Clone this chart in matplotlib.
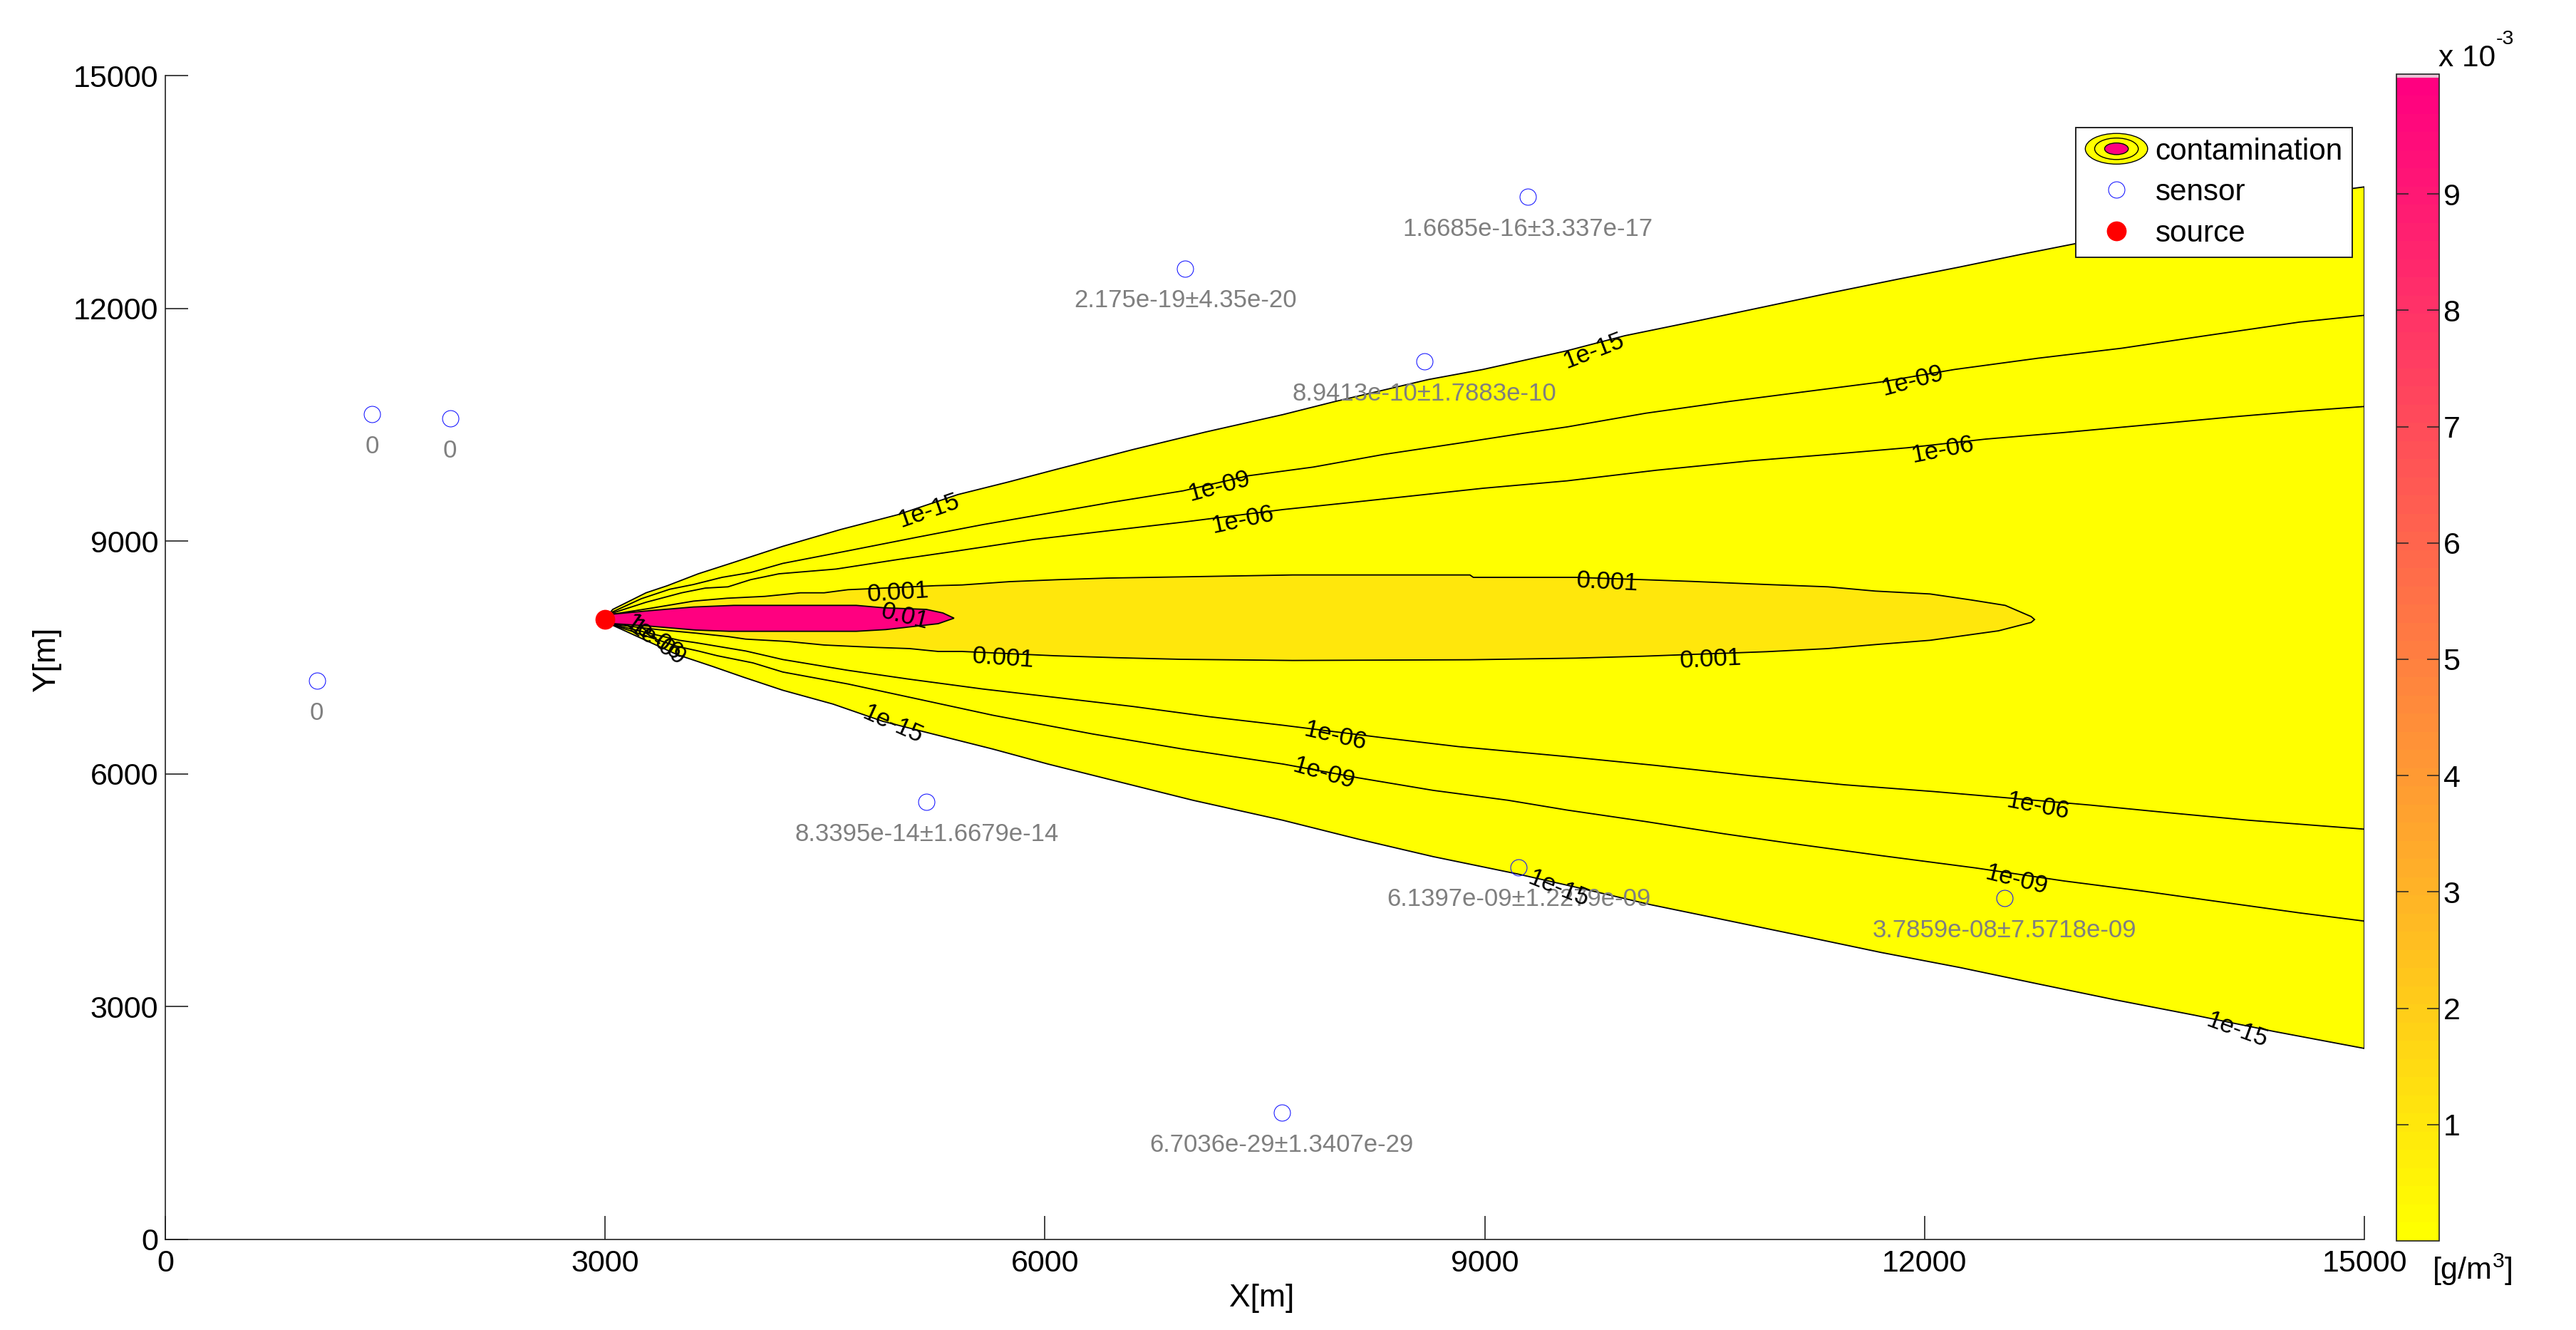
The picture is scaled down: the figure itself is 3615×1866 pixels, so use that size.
import matplotlib
matplotlib.use("Agg")
import matplotlib.pyplot as plt
from matplotlib.cm import ScalarMappable
from matplotlib.colors import LinearSegmentedColormap, Normalize
from matplotlib.legend_handler import HandlerBase
from matplotlib.lines import Line2D
from matplotlib.patches import Ellipse, Patch

plt.rcParams['font.family'] = ['Liberation Sans', 'DejaVu Sans']
plt.rcParams['mathtext.fontset'] = 'custom'
plt.rcParams['mathtext.rm'] = 'Liberation Sans'
plt.rcParams['mathtext.default'] = 'rm'

# contour outlines, source -> downstream
upper_15 = [(3000, 8000), (3052, 8120), (3279, 8334), (3425, 8426), (3635, 8579), (3862, 8717), (4212, 8933),
            (4605, 9149), (4997, 9341), (5406, 9600), (5748, 9761), (6072, 9922), (6600, 10180), (7095, 10406),
            (7624, 10631), (7965, 10793), (8614, 11082), (8987, 11212), (9562, 11454), (9955, 11647),
            (10454, 11840), (10900, 12017), (11346, 12195), (11811, 12373), (12238, 12532), (12654, 12694),
            (13024, 12832), (14000, 13190), (14911, 13543), (15000, 13565)]
lower_15 = [(3000, 8000), (3052, 7915), (3490, 7538), (3733, 7385), (3943, 7247), (4212, 7078), (4554, 6900),
            (4895, 6677), (5236, 6514), (5645, 6320), (6021, 6127), (6533, 5885), (7010, 5660), (7624, 5402),
            (8136, 5160), (8648, 4934), (9227, 4709), (9680, 4515), (10133, 4314), (10633, 4120), (11170, 3910),
            (11703, 3699), (12238, 3506), (12773, 3294), (13309, 3085), (13843, 2890), (14381, 2682),
            (15000, 2462)]

upper_09 = [(3000, 8000), (3052, 8089), (3247, 8258), (3441, 8380), (3603, 8441), (3797, 8533), (3992, 8595),
            (4212, 8713), (4656, 8875), (5133, 9052), (5577, 9213), (6021, 9358), (6464, 9503), (6942, 9648),
            (7386, 9842), (7829, 9954), (8307, 10116), (8819, 10261), (9262, 10390), (9562, 10472),
            (10097, 10648), (10668, 10800), (11170, 10922), (11703, 11051), (12204, 11212), (12773, 11357),
            (13345, 11486), (13916, 11647), (14558, 11823), (15000, 11910)]
lower_09 = [(3000, 8000), (3060, 7915), (3490, 7645), (3635, 7584), (3765, 7523), (4008, 7431), (4212, 7313),
            (4656, 7159), (5133, 6965), (5645, 6756), (6327, 6514), (6942, 6320), (7624, 6127), (8136, 5950),
            (8648, 5788), (9160, 5660), (9562, 5534), (10097, 5386), (10633, 5228), (11061, 5112),
            (11703, 4947), (12345, 4789), (12953, 4620), (13489, 4490), (14024, 4349), (14558, 4209),
            (15000, 4103)]

upper_06 = [(3000, 8000), (3052, 8074), (3279, 8212), (3522, 8334), (3684, 8395), (3838, 8411), (3992, 8503),
            (4186, 8579), (4575, 8640), (4997, 8763), (5406, 8875), (5918, 9020), (6430, 9133), (6942, 9245),
            (7624, 9407), (8067, 9494), (8511, 9584), (8987, 9681), (9562, 9777), (10168, 9913), (10811, 10035),
            (11346, 10116), (11882, 10203), (12418, 10315), (12953, 10400), (13489, 10493), (14094, 10600),
            (14558, 10674), (15000, 10735)]
lower_06 = [(3000, 8000), (3060, 7921), (3506, 7722), (3619, 7691), (3959, 7584), (4212, 7474), (4656, 7335),
            (5066, 7223), (5577, 7094), (6089, 6982), (6600, 6869), (7113, 6739), (7624, 6627), (8307, 6466),
            (8819, 6352), (9562, 6223), (10168, 6109), (10811, 5977), (11454, 5860), (12061, 5773),
            (12597, 5686), (13132, 5598), (13668, 5499), (14204, 5404), (15000, 5288)]

upper_03 = [(3000, 8000), (3052, 8059), (3311, 8135), (3603, 8227), (3830, 8264), (4089, 8288), (4332, 8334),
            (4494, 8334), (4656, 8374), (4802, 8386), (5255, 8426), (5434, 8435), (5760, 8478), (6085, 8503),
            (6434, 8524), (6922, 8539), (7690, 8564), (8899, 8564), (8922, 8533), (9620, 8533), (10085, 8503),
            (10411, 8481), (10922, 8441), (11341, 8411), (11666, 8356), (12038, 8319), (12317, 8242),
            (12550, 8172), (12727, 8028), (12750, 7990)]
lower_03 = [(3000, 8000), (3060, 7927), (3360, 7860), (3619, 7814), (3846, 7768), (3959, 7737), (4251, 7706),
            (4494, 7661), (4672, 7645), (4850, 7630), (5077, 7615), (5272, 7578), (5434, 7578), (6062, 7523),
            (6480, 7498), (6922, 7477), (7690, 7462), (8899, 7471), (9620, 7492), (10085, 7517), (10922, 7575),
            (11341, 7615), (11666, 7667), (12038, 7722), (12504, 7844), (12727, 7952), (12750, 7990)]

upper_02 = [(3000, 8000), (3052, 8059), (3311, 8105), (3603, 8151), (3878, 8172), (4713, 8172), (4899, 8141),
            (5191, 8120), (5304, 8074), (5380, 8007)]
lower_02 = [(3000, 8000), (3060, 7936), (3295, 7906), (3619, 7854), (3846, 7838), (4713, 7838), (4915, 7860),
            (5272, 7936), (5380, 8007)]

contours = [(1e-15, upper_15, lower_15), (1e-9, upper_09, lower_09), (1e-6, upper_06, lower_06),
            (1e-3, upper_03, lower_03), (1e-2, upper_02, lower_02)]

sensor_x = [1412, 1942, 1033, 6956, 9293, 8587, 5192, 9232, 12543, 7616]
sensor_y = [10637, 10581, 7198, 12513, 13435, 11315, 5637, 4799, 4400, 1632]
sensor_text = ['0', '0', '0', '2.175e-19±4.35e-20', '1.6685e-16±3.337e-17', '8.9413e-10±1.7883e-10',
               '8.3395e-14±1.6679e-14', '6.1397e-09±1.2279e-09', '3.7859e-08±7.5718e-09', '6.7036e-29±1.3407e-29']
source_x, source_y = 3000, 7990

# clabel text: string, x, y, rotation
contour_labels = [('1e-15', 5208, 9390, 19), ('1e-09', 7186, 9706, 15), ('1e-06', 7350, 9277, 12),
                  ('1e-15', 9744, 11454, 21), ('1e-09', 11919, 11068, 15), ('1e-06', 12123, 10180, 11),
                  ('0.001', 4997, 8333, 4), ('0.01', 5045, 8028, -14), ('0.001', 9838, 8472, -3),
                  ('0.001', 5713, 7492, -4), ('0.001', 10541, 7477, 3), ('1e-15', 4963, 6636, -24),
                  ('1e-06', 7980, 6488, -13), ('1e-09', 7902, 6004, -16), ('1e-15', 9503, 4522, -22),
                  ('1e-06', 12773, 5580, -11), ('1e-09', 12626, 4630, -14), ('1e-15', 14130, 2700, -20),
                  ('1e-06', 3330, 7752, -35), ('1e-09', 3354, 7688, -35)]

xticks = [0, 3000, 6000, 9000, 12000, 15000]
yticks = [0, 3000, 6000, 9000, 12000, 15000]
cbar_ticks = [0.001 * i for i in range(1, 10)]
cbar_labels = [str(i) for i in range(1, 10)]

W, H = 3615, 1866
FS = 31
LINE = '#000000'
BLUE = '#1010ff'

cmap = LinearSegmentedColormap.from_list('plume', ['#ffff00', '#ff0080'], N=64)
norm = Normalize(0, 0.01)


def px_rect(left, top, right, bottom):
    return [left / W, 1 - bottom / H, (right - left) / W, (bottom - top) / H]


class HandlerContamination(HandlerBase):
    # little nested blob in the legend
    def create_artists(self, legend, orig_handle, xdescent, ydescent, width, height, fontsize, trans):
        cx = width / 2 - xdescent
        cy = height / 2 - ydescent
        w, h = 63, 31
        out = []
        for f, col in [(1, '#ffff00'), (0.7, '#ffff00'), (0.38, '#ff0080')]:
            out.append(Ellipse((cx, cy), w * f, h * f, facecolor=col, edgecolor=LINE, lw=1.0, transform=trans))
        return out


fig = plt.figure(figsize=(W / 100, H / 100), dpi=100)
ax = fig.add_axes(px_rect(232, 106, 3318, 1739))
cax = fig.add_axes(px_rect(3363, 104, 3423, 1741))

for value, upper, lower in contours:
    outline = upper + lower[::-1]
    xs = [p[0] for p in outline]
    ys = [p[1] for p in outline]
    ax.fill(xs, ys, facecolor=cmap(norm(value)), edgecolor=LINE, linewidth=1.3, zorder=2)

for text, x, y, rot in contour_labels:
    ax.text(x, y, text, fontsize=25, rotation=rot, rotation_mode='anchor', ha='center', va='center',
            color='black', zorder=6)

ax.plot(sensor_x, sensor_y, 'o', mfc='none', mec=BLUE, ms=16.5, mew=0.75, zorder=4)
for x, y, text in zip(sensor_x, sensor_y, sensor_text):
    ax.annotate(text, (x, y), xytext=(0, -32.5), textcoords='offset points', ha='center', va='center',
                fontsize=25, color='#7f7f7f', zorder=5)
ax.plot([source_x], [source_y], 'o', color='#ff0000', ms=20, mew=0, zorder=7)

ax.set_xlim(0, 15000)
ax.set_ylim(0, 15000)
ax.set_xticks(xticks)
ax.set_yticks(yticks)
ax.spines['top'].set_visible(False)
ax.spines['right'].set_visible(False)
for side in ['left', 'bottom']:
    ax.spines[side].set_linewidth(1.2)
    ax.spines[side].set_color('#222222')
ax.tick_params(axis='x', direction='in', length=24, width=1.2, color='#222222', labelsize=FS, pad=10)
ax.tick_params(axis='y', direction='in', length=23, width=1.2, color='#222222', labelsize=FS, pad=7)
ax.set_xlabel('X[m]', fontsize=32, va='center')
ax.set_ylabel('Y[m]', fontsize=32, va='center')
ax.xaxis.set_label_coords(0.4987, -0.0508)
ax.yaxis.set_label_coords(-0.0541, 0.498)

handles = [Patch(label='contamination'),
           Line2D([], [], ls='none', marker='o', mfc='none', mec=BLUE, ms=16.5, mew=0.75, label='sensor'),
           Line2D([], [], ls='none', marker='o', color='#ff0000', ms=20, mew=0, label='source')]
leg = ax.legend(handles=handles, handler_map={Patch: HandlerContamination()}, loc='upper left',
                bbox_to_anchor=(0.8688, 0.9553), borderaxespad=0, fontsize=30.4, fancybox=False, framealpha=1,
                edgecolor='#222222', borderpad=0.32, labelspacing=0.42, handlelength=2.06, handletextpad=0.26,
                numpoints=1)
leg.get_frame().set_linewidth(1.4)
leg.set_zorder(10)

sm = ScalarMappable(norm=norm, cmap=cmap)
cbar = fig.colorbar(sm, cax=cax)
cbar.set_ticks(cbar_ticks, labels=cbar_labels)
cbar.outline.set_linewidth(1.2)
cbar.outline.set_edgecolor('#222222')
cax.tick_params(which='major', direction='in', left=True, right=True, length=12.5, width=1.1, color='#222222',
                labelsize=FS, pad=4)
cax.minorticks_off()
# thin pale strip on top of the bar
cax.set_ylim(0, 0.01003)
cax.set_facecolor('#e8c4d6')

fig.text(3422 / W, 1 - 93 / H, 'x 10', fontsize=30.5, ha='left', va='baseline')
fig.text(3503 / W, 1 - 62 / H, '-3', fontsize=20.5, ha='left', va='baseline')
fig.text(3413 / W, 1 - 1795 / H, r'[g/m$^{3}$]', fontsize=31, ha='left', va='baseline')

fig.savefig('out.png', dpi=100, facecolor='white')
